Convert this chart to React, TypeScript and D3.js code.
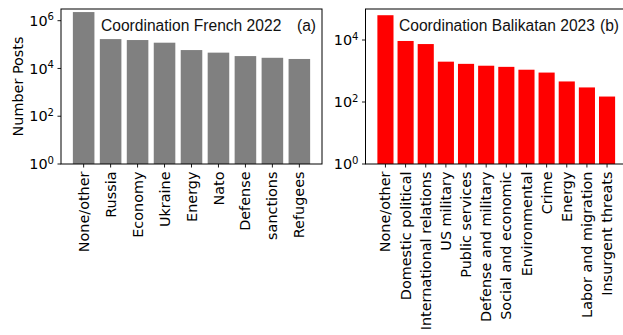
import React from "react";
import * as d3 from "d3";

const frenchCategories = ["None/other", "Russia", "Economy", "Ukraine", "Energy", "Nato", "Defense", "sanctions", "Refugees"];
const frenchValues = [2300000, 170000, 155000, 120000, 59000, 46000, 33000, 28000, 25000];

const balikatanCategories = [
  "None/other", "Domestic political", "International relations", "US military", "Public services",
  "Defense and military", "Social and economic", "Environmental", "Crime", "Energy",
  "Labor and migration", "Insurgent threats",
];
const balikatanValues = [63000, 9300, 7400, 2000, 1700, 1480, 1360, 1100, 890, 460, 295, 150];

const frenchTicks = [0, 2, 4, 6];
const balikatanTicks = [0, 2, 4];

const W = 623;
const H = 335;
const TOP = 9;
const BOTTOM = 164;
const TICK_FONT = "DejaVu Sans";
const TITLE_FONT = "Liberation Sans, Arial, Helvetica, sans-serif";
const FS = 14.4;
const TITLE_FS = 15.6;

type PanelProps = {
  x0: number;
  x1: number;
  categories: string[];
  values: number[];
  ticks: number[];
  maxLog: number;
  color: string;
  title: string;
  titleX: number;
  tag: string;
  tagX: number;
};

function Panel(p: PanelProps) {
  const n = p.categories.length;
  const x = d3
    .scaleBand<string>()
    .domain(p.categories)
    .range([p.x0, p.x1])
    .paddingInner(0.2)
    .paddingOuter(0.44 + (n > 10 ? 0.15 : 0));
  const y = d3.scaleLog().domain([1, Math.pow(10, p.maxLog)]).range([BOTTOM, TOP]);
  return (
    <g>
      {p.categories.map((c, i) => (
        <rect
          key={c}
          x={x(c)}
          y={y(p.values[i])}
          width={x.bandwidth()}
          height={BOTTOM - y(p.values[i])}
          fill={p.color}
        />
      ))}
      <rect x={p.x0} y={TOP} width={p.x1 - p.x0} height={BOTTOM - TOP} fill="none" stroke="#000" strokeWidth={1} />
      {p.ticks.map((t) => {
        const yy = y(Math.pow(10, t));
        return (
          <g key={t}>
            <line x1={p.x0 - 3.5} x2={p.x0} y1={yy} y2={yy} stroke="#000" strokeWidth={0.9} />
            <text x={p.x0 - 7} y={yy} dy="0.36em" textAnchor="end" fontFamily={TICK_FONT} fontSize={FS}>
              10
              <tspan dy="-0.55em" fontSize={FS * 0.7}>{t}</tspan>
            </text>
          </g>
        );
      })}
      {p.categories.map((c) => {
        const cx = (x(c) as number) + x.bandwidth() / 2;
        return (
          <g key={"t" + c}>
            <line x1={cx} x2={cx} y1={BOTTOM} y2={BOTTOM + 3.5} stroke="#000" strokeWidth={0.9} />
            <text
              transform={`translate(${cx},${BOTTOM + 7.5}) rotate(-90)`}
              textAnchor="end"
              dy="0.35em"
              fontFamily={TICK_FONT}
              fontSize={FS}
            >
              {c}
            </text>
          </g>
        );
      })}
      <text x={p.titleX} y={30.5} fontFamily={TITLE_FONT} fontSize={TITLE_FS} fill="#111">
        {p.title}
      </text>
      <text x={p.tagX} y={30.5} textAnchor="end" fontFamily={TITLE_FONT} fontSize={TITLE_FS} fill="#111">
        {p.tag}
      </text>
    </g>
  );
}

export default function App() {
  return (
    <svg
      width={W}
      height={H}
      style={{ position: "absolute", left: 0, top: 0, background: "#fff" }}
      viewBox={`0 0 ${W} ${H}`}
    >
      <rect x={0} y={0} width={W} height={H} fill="#fff" />
      <text
        transform={`translate(17.5,${(TOP + BOTTOM) / 2}) rotate(-90)`}
        textAnchor="middle"
        dy="0.35em"
        fontFamily={TICK_FONT}
        fontSize={FS}
      >
        Number Posts
      </text>
      <Panel
        x0={61}
        x1={322}
        categories={frenchCategories}
        values={frenchValues}
        ticks={frenchTicks}
        maxLog={6.49}
        color="#808080"
        title="Coordination French 2022"
        titleX={101}
        tag="(a)"
        tagX={316}
      />
      <Panel
        x0={365.5}
        x1={627}
        categories={balikatanCategories}
        values={balikatanValues}
        ticks={balikatanTicks}
        maxLog={5.0}
        color="#ff0000"
        title="Coordination Balikatan 2023"
        titleX={399}
        tag="(b)"
        tagX={619}
      />
    </svg>
  );
}
